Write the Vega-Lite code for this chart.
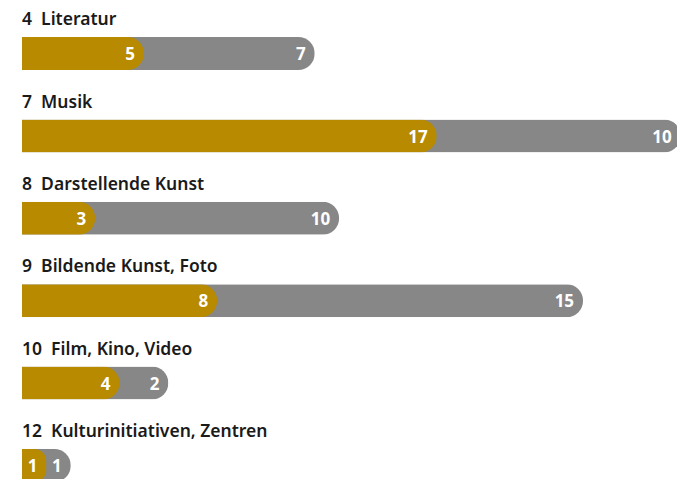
{
  "$schema": "https://vega.github.io/schema/vega-lite/v6.json",
  "width": 655,
  "height": 479,
  "autosize": "none",
  "padding": {"left": 22, "top": 0, "right": 0, "bottom": 0},
  "background": "white",
  "config": {"view": {"stroke": null}},
  "data": {"values": [
    {"cat": "4\u00a0\u00a0Literatur", "part": "a", "value": 5},
    {"cat": "4\u00a0\u00a0Literatur", "part": "b", "value": 7},
    {"cat": "7\u00a0\u00a0Musik", "part": "a", "value": 17},
    {"cat": "7\u00a0\u00a0Musik", "part": "b", "value": 10},
    {"cat": "8\u00a0\u00a0Darstellende Kunst", "part": "a", "value": 3},
    {"cat": "8\u00a0\u00a0Darstellende Kunst", "part": "b", "value": 10},
    {"cat": "9\u00a0\u00a0Bildende Kunst, Foto", "part": "a", "value": 8},
    {"cat": "9\u00a0\u00a0Bildende Kunst, Foto", "part": "b", "value": 15},
    {"cat": "10\u00a0\u00a0Film, Kino, Video", "part": "a", "value": 4},
    {"cat": "10\u00a0\u00a0Film, Kino, Video", "part": "b", "value": 2},
    {"cat": "12\u00a0\u00a0Kulturinitiativen, Zentren", "part": "a", "value": 1},
    {"cat": "12\u00a0\u00a0Kulturinitiativen, Zentren", "part": "b", "value": 1}
  ]},
  "transform": [
    {"stack": "value", "groupby": ["cat"], "sort": [{"field": "part", "order": "ascending"}], "as": ["v0", "v1"]}
  ],
  "encoding": {
    "y": {"field": "cat", "type": "nominal", "sort": null, "axis": null,
      "scale": {"range": [0, 494.4], "paddingInner": 0, "paddingOuter": 0}},
    "x": {"field": "v1", "type": "quantitative", "axis": null,
      "scale": {"domain": [0, 26.85], "nice": false, "zero": true}}
  },
  "layer": [
    {
      "transform": [{"filter": "datum.part == 'b'"}],
      "mark": {"type": "bar", "color": "#878787", "height": 33, "yOffset": 12.3, "cornerRadiusEnd": 16.5}
    },
    {
      "transform": [{"filter": "datum.part == 'a'"}],
      "mark": {"type": "bar", "color": "#B78A00", "height": 33, "yOffset": 12.3, "cornerRadiusEnd": 16.5}
    },
    {
      "mark": {"type": "text", "align": "right", "baseline": "alphabetic", "dx": -9, "dy": 19, "color": "white", "font": "Noto Sans", "fontWeight": "bold", "fontSize": 17},
      "encoding": {"text": {"field": "value", "type": "quantitative"}}
    },
    {
      "transform": [{"filter": "datum.part == 'a'"}],
      "mark": {"type": "text", "align": "left", "baseline": "alphabetic", "dy": -16, "color": "#1a1a1a", "font": "Noto Sans", "fontWeight": 600, "fontSize": 17.5},
      "encoding": {"x": {"datum": 0, "type": "quantitative"}, "text": {"field": "cat", "type": "nominal"}}
    }
  ]
}
